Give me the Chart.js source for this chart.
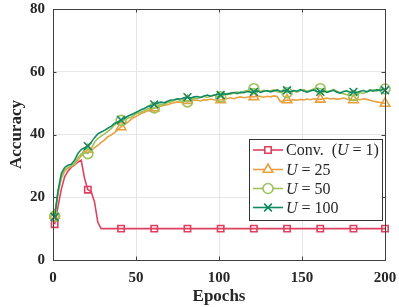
<!DOCTYPE html>
<html>
<head>
<meta charset="utf-8">
<script src="https://cdn.jsdelivr.net/npm/chart.js@4"></script>
<style>
  html, body { margin: 0; padding: 0; background: #fff; }
  #wrap { width: 399px; height: 307px; }
</style>
</head>
<body>
<div id="wrap"><canvas id="myChart" width="399" height="307"></canvas></div>
<script>
// epochs 1,3,5,...,199 and 200
const epochs = [1,3,5,7,9,11,13,15,17,19,21,23,25,27,29,31,33,35,37,39,41,43,45,47,49,51,53,55,57,59,
  61,63,65,67,69,71,73,75,77,79,81,83,85,87,89,91,93,95,97,99,101,103,105,107,109,111,113,115,117,119,
  121,123,125,127,129,131,133,135,137,139,141,143,145,147,149,151,153,155,157,159,161,163,165,167,169,
  171,173,175,177,179,181,183,185,187,189,191,193,195,197,199,200];

const conv = [11.4,17.0,22.5,26.5,28.3,29.5,30.3,31.2,31.8,26.0,22.4,21.8,18.5,12.0,10.0,
  10,10,10,10,10,10,10,10,10,10,10,10,10,10,10,10,10,10,10,10,10,10,10,10,10,10,10,10,10,10,
  10,10,10,10,10,10,10,10,10,10,10,10,10,10,10,10,10,10,10,10,10,10,10,10,10,10,10,10,10,10,
  10,10,10,10,10,10,10,10,10,10,10,10,10,10,10,10,10,10,10,10,10,10,10,10,10,10,10,10,10,10,10];

const u25 = [14.2,21.5,26.0,28.3,29.3,29.8,30.5,31.8,33.2,34.3,35.2,34.8,35.8,36.5,37.5,38.2,39.3,39.8,40.6,41.5,
  42.4,43.2,43.9,44.8,45.5,46.0,46.7,47.1,47.6,48.0,48.4,48.7,49.0,49.3,49.5,49.9,50.1,50.4,50.2,50.6,
  50.8,50.6,51.0,50.9,50.7,51.1,51.0,51.3,51.1,50.9,51.0,51.3,51.5,51.7,51.4,51.8,52.0,51.7,51.9,52.1,
  52.0,52.3,52.1,51.9,52.2,52.0,52.3,52.1,50.5,50.7,51.0,50.8,51.1,50.9,51.2,51.0,51.3,51.1,51.4,51.2,
  51.2,51.4,51.6,51.3,51.5,51.2,51.4,51.6,51.3,51.1,51.0,51.3,51.1,51.4,51.2,50.9,50.6,50.4,50.2,50.0,49.9];

const u50 = [14.0,21.0,26.5,28.8,29.5,30.0,30.8,32.5,33.8,34.2,33.9,35.5,37.5,38.8,39.5,40.2,41.0,41.8,43.0,43.8,
  44.5,44.6,45.2,45.5,46.2,46.8,47.2,47.6,48.2,48.3,48.5,49.0,49.6,49.5,50.2,50.4,50.8,51.2,50.6,50.8,
  50.4,51.0,51.6,51.4,51.9,52.2,51.8,52.3,52.6,52.1,52.0,52.6,53.1,52.8,53.3,53.6,53.1,53.8,54.0,54.3,
  54.6,54.2,53.8,54.1,53.7,53.9,54.2,53.6,53.4,53.8,53.3,53.6,53.9,53.5,54.0,54.3,53.8,54.1,54.5,54.8,
  54.6,54.2,53.7,53.9,54.4,53.8,53.3,53.0,52.7,52.5,52.4,52.8,53.4,53.1,53.6,53.9,54.2,53.8,54.4,54.6,54.5];

const u100 = [13.7,22.0,27.5,29.5,30.2,30.5,31.8,34.0,35.2,35.8,36.3,37.5,39.0,40.2,40.8,41.3,42.0,42.6,43.5,44.0,
  44.6,45.2,45.8,46.3,46.8,47.3,47.9,48.3,48.9,49.2,49.6,50.0,50.3,50.1,50.6,51.0,51.1,51.4,51.3,51.7,
  51.9,51.6,52.0,52.1,51.8,52.3,52.6,52.2,52.5,52.8,52.6,53.0,52.8,53.2,53.4,53.0,53.5,53.3,53.7,53.5,
  53.6,53.9,53.4,53.8,54.0,53.6,53.9,54.2,53.7,54.0,54.1,53.6,54.0,53.8,54.3,53.9,53.5,53.9,54.2,53.7,
  53.6,53.9,53.4,53.8,54.1,53.5,53.2,53.7,53.9,53.4,53.6,53.3,53.8,54.0,53.6,54.2,53.8,54.3,54.0,54.4,54.1];

const xTicks = [0, 50, 100, 150, 200];
const yTicks = [0, 20, 40, 60, 80];

const seriesNames = [
  [{ t: "Conv.  (", i: false }, { t: "U", i: true }, { t: " = 1)", i: false }],
  [{ t: "U", i: true }, { t: " = 25", i: false }],
  [{ t: "U", i: true }, { t: " = 50", i: false }],
  [{ t: "U", i: true }, { t: " = 100", i: false }],
];

const colors = ["#E0405F", "#E9A03E", "#9DC25A", "#108A62"];
const shapes = ["rect", "triangle", "circle", "crossRot"];
const markerSize = [4.5, 5.5, 5, 5.5];

const textColor = "#262626";
const serif = "'Liberation Serif', 'DejaVu Serif', serif";

function pts(vals) {
  return vals.map((v, k) => ({ x: epochs[k], y: v }));
}

function markerRadius(r) {
  return (c) => (c.dataIndex % 10 === 0 || c.dataIndex === epochs.length - 1) ? r : 0;
}

const allSeries = [conv, u25, u50, u100];

const datasets = allSeries.map((vals, s) => ({
  data: pts(vals),
  borderColor: colors[s],
  backgroundColor: "rgba(0,0,0,0)",
  borderWidth: 1.6,
  pointStyle: shapes[s],
  pointRadius: markerRadius(markerSize[s]),
  pointBorderWidth: 1.6,
  pointBorderColor: colors[s],
  pointBackgroundColor: "rgba(0,0,0,0)",
  pointHoverRadius: 0,
  tension: 0,
  fill: false,
  clip: false,
})).reverse(); // draw conv on top

// box, inward ticks and legend in MATLAB style
const framePlugin = {
  id: "frame",
  afterDraw(chart) {
    const { ctx, chartArea: a, scales } = chart;
    ctx.save();
    ctx.strokeStyle = "#404040";
    ctx.lineWidth = 1;
    ctx.strokeRect(a.left + 0.5, a.top + 0.5, a.right - a.left, a.bottom - a.top);
    // inward ticks
    const tl = 3.5;
    ctx.beginPath();
    xTicks.forEach((t) => {
      const x = Math.round(scales.x.getPixelForValue(t)) + 0.5;
      ctx.moveTo(x, a.bottom); ctx.lineTo(x, a.bottom - tl);
      ctx.moveTo(x, a.top); ctx.lineTo(x, a.top + tl);
    });
    yTicks.forEach((t) => {
      const y = Math.round(scales.y.getPixelForValue(t)) + 0.5;
      ctx.moveTo(a.left, y); ctx.lineTo(a.left + tl, y);
      ctx.moveTo(a.right, y); ctx.lineTo(a.right - tl, y);
    });
    ctx.stroke();

    // legend
    const bx = 249.5, by = 139.5, bw = 133, bh = 81;
    ctx.fillStyle = "#fff";
    ctx.fillRect(bx, by, bw, bh);
    ctx.strokeStyle = "#333";
    ctx.strokeRect(bx, by, bw, bh);
    const rows = [150, 169.5, 188.5, 207.5];
    seriesNames.forEach((parts, s) => {
      const y = rows[s];
      ctx.strokeStyle = colors[s];
      ctx.lineWidth = 1.6;
      ctx.beginPath();
      ctx.moveTo(253, y); ctx.lineTo(283, y);
      ctx.stroke();
      ctx.fillStyle = "#fff";
      Chart.helpers.drawPoint(ctx, {
        pointStyle: shapes[s], radius: markerSize[s], borderWidth: 1.6, rotation: 0,
      }, 268, y);
      ctx.fillStyle = textColor;
      ctx.textBaseline = "middle";
      ctx.textAlign = "left";
      let x = 286;
      parts.forEach((p) => {
        ctx.font = (p.i ? "italic " : "") + "16px " + serif;
        ctx.fillText(p.t, x, y + 1);
        x += ctx.measureText(p.t).width;
      });
    });
    ctx.restore();
  },
};

const ctx = document.getElementById("myChart").getContext("2d");

const myChart = new Chart(ctx, {
  type: "line",
  data: { datasets: datasets },
  options: {
    responsive: false,
    animation: false,
    events: [],
    layout: { padding: { left: 0, right: 14, top: 9, bottom: 0 } },
    plugins: { legend: { display: false }, tooltip: { enabled: false } },
    scales: {
      x: {
        type: "linear",
        min: 0,
        max: 200,
        afterBuildTicks: (sc) => { sc.ticks = xTicks.map((v) => ({ value: v })); },
        afterFit: (sc) => { sc.height = 47; sc.paddingLeft = 0; sc.paddingRight = 0; },
        grid: { color: "#e6e6e6", drawTicks: false },
        border: { color: "#404040" },
        ticks: {
          padding: 9,
          color: textColor,
          font: { family: serif, size: 15, weight: "bold" },
          maxRotation: 0,
        },
        title: {
          display: true,
          text: "Epochs",
          color: textColor,
          font: { family: serif, size: 17, weight: "bold" },
          padding: { top: 2, bottom: 0 },
        },
      },
      y: {
        min: 0,
        max: 80,
        afterBuildTicks: (sc) => { sc.ticks = yTicks.map((v) => ({ value: v })); },
        afterFit: (sc) => { sc.width = 53; sc.paddingTop = 0; sc.paddingBottom = 0; },
        grid: { color: "#e6e6e6", drawTicks: false },
        border: { color: "#404040" },
        ticks: {
          padding: 8,
          color: textColor,
          font: { family: serif, size: 15, weight: "bold" },
        },
        title: {
          display: true,
          text: "Accuracy",
          color: textColor,
          font: { family: serif, size: 17, weight: "bold" },
          padding: { top: 6, bottom: 0 },
        },
      },
    },
  },
  plugins: [framePlugin],
});
</script>
</body>
</html>
